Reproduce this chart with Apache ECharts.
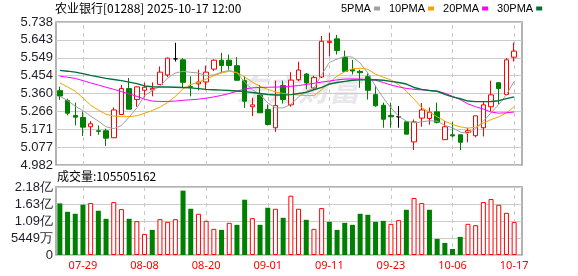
<!DOCTYPE html>
<html>
<head>
<meta charset="utf-8">
<script src="https://cdn.jsdelivr.net/npm/echarts@6/dist/echarts.min.js"></script>
<style>
html,body{margin:0;padding:0;background:#fff;}
#c{width:578px;height:276px;}
</style>
</head>
<body>
<div id="c"></div>
<script>
// ---------- data ----------
const dates = ['07-24','07-25','07-28','07-29','07-30','07-31','08-01','08-04','08-05','08-06',
  '08-07','08-08','08-11','08-12','08-13','08-14','08-15','08-18','08-19','08-20',
  '08-21','08-22','08-25','08-26','08-27','08-28','08-29','09-01','09-02','09-03',
  '09-04','09-05','09-08','09-09','09-10','09-11','09-12','09-15','09-16','09-17',
  '09-18','09-19','09-22','09-23','09-24','09-25','09-26','09-29','09-30','10-02',
  '10-03','10-06','10-08','10-09','10-10','10-13','10-14','10-15','10-16','10-17'];
const labelDates = ['07-29','08-08','08-20','09-01','09-11','09-23','10-06','10-17'];

const opens  = [5.375,5.323,5.244,5.233,5.184,5.163,5.163,5.126,5.249,5.386,
  5.328,5.377,5.379,5.408,5.458,5.543,5.538,5.396,5.411,5.421,
  5.489,5.536,5.536,5.507,5.428,5.290,5.352,5.275,5.179,5.402,
  5.300,5.433,5.463,5.389,5.447,5.629,5.649,5.550,5.486,5.477,
  5.449,5.354,5.298,5.244,5.237,5.210,5.104,5.230,5.228,5.263,
  5.116,5.142,5.142,5.154,5.137,5.179,5.290,5.417,5.355,5.552];
const closes = [5.347,5.256,5.235,5.182,5.200,5.160,5.124,5.273,5.386,5.277,
  5.395,5.393,5.387,5.473,5.547,5.543,5.419,5.393,5.421,5.473,
  5.536,5.508,5.508,5.430,5.319,5.300,5.258,5.196,5.296,5.328,
  5.431,5.484,5.416,5.444,5.636,5.636,5.587,5.477,5.479,5.470,
  5.377,5.295,5.224,5.237,5.237,5.145,5.210,5.273,5.261,5.207,
  5.184,5.136,5.102,5.163,5.242,5.300,5.353,5.386,5.538,5.584];
const lows   = [5.326,5.245,5.191,5.135,5.135,5.142,5.082,5.124,5.249,5.277,
  5.290,5.340,5.345,5.408,5.447,5.529,5.394,5.345,5.377,5.377,
  5.479,5.470,5.486,5.429,5.284,5.240,5.258,5.191,5.157,5.307,
  5.290,5.425,5.382,5.380,5.442,5.556,5.566,5.474,5.461,5.390,
  5.328,5.290,5.179,5.179,5.179,5.145,5.061,5.184,5.195,5.202,
  5.116,5.128,5.061,5.102,5.128,5.133,5.267,5.303,5.350,5.529];
const highs  = [5.396,5.333,5.312,5.265,5.214,5.191,5.174,5.286,5.405,5.442,
  5.398,5.417,5.419,5.503,5.550,5.628,5.547,5.451,5.486,5.507,
  5.540,5.575,5.566,5.552,5.451,5.337,5.405,5.302,5.428,5.428,
  5.473,5.528,5.468,5.454,5.664,5.682,5.670,5.587,5.538,5.486,
  5.466,5.402,5.312,5.312,5.294,5.214,5.223,5.310,5.286,5.312,
  5.214,5.210,5.142,5.177,5.242,5.319,5.428,5.419,5.547,5.629];

const ma5  = [5.345,5.323,5.293,5.270,5.240,5.214,5.184,5.174,5.191,5.235,
  5.284,5.349,5.375,5.398,5.442,5.468,5.477,5.472,5.468,5.454,
  5.459,5.473,5.482,5.470,5.420,5.380,5.354,5.310,5.284,5.284,
  5.302,5.342,5.372,5.389,5.460,5.524,5.542,5.556,5.552,5.521,
  5.468,5.398,5.337,5.284,5.240,5.214,5.205,5.210,5.216,5.214,
  5.191,5.179,5.156,5.149,5.174,5.214,5.258,5.302,5.354,5.424];
const ma10 = [5.416,5.395,5.372,5.337,5.298,5.272,5.250,5.241,5.237,5.238,
  5.242,5.256,5.270,5.288,5.312,5.345,5.385,5.408,5.420,5.436,
  5.454,5.468,5.478,5.470,5.448,5.420,5.398,5.382,5.368,5.360,
  5.355,5.352,5.349,5.349,5.380,5.418,5.452,5.475,5.490,5.494,
  5.488,5.462,5.446,5.432,5.407,5.372,5.330,5.285,5.262,5.237,
  5.214,5.196,5.184,5.177,5.182,5.203,5.222,5.237,5.257,5.290];
const ma20 = [5.452,5.446,5.440,5.428,5.416,5.405,5.393,5.382,5.370,5.358,
  5.345,5.330,5.320,5.318,5.318,5.320,5.324,5.327,5.330,5.335,
  5.342,5.350,5.360,5.372,5.384,5.390,5.392,5.393,5.394,5.395,
  5.398,5.402,5.408,5.414,5.420,5.426,5.432,5.436,5.437,5.436,
  5.434,5.430,5.418,5.405,5.395,5.387,5.382,5.379,5.376,5.372,
  5.362,5.345,5.328,5.305,5.290,5.278,5.262,5.256,5.258,5.262];
const ma30 = [5.482,5.478,5.473,5.465,5.456,5.448,5.440,5.434,5.428,5.420,
  5.412,5.400,5.396,5.394,5.394,5.393,5.392,5.390,5.386,5.382,
  5.380,5.378,5.376,5.373,5.370,5.365,5.360,5.355,5.352,5.352,
  5.354,5.360,5.366,5.380,5.392,5.410,5.418,5.424,5.430,5.432,
  5.432,5.433,5.430,5.424,5.418,5.410,5.392,5.382,5.376,5.372,
  5.355,5.342,5.332,5.320,5.317,5.317,5.318,5.322,5.333,5.342];

const volumes = [165400000,138500000,132100000,161100000,166500000,141800000,116000000,169700000,147100000,116000000,
  108500000,67700000,80500000,114900000,106300000,114900000,206200000,148200000,132100000,109500000,
  83800000,80500000,103100000,96700000,177200000,118100000,96700000,151400000,148200000,119200000,
  190100000,148200000,112800000,83800000,150300000,106300000,80500000,103100000,96700000,132100000,
  128900000,106300000,109500000,99900000,111700000,145000000,182600000,166500000,145000000,51500000,
  38700000,19300000,58000000,99900000,95600000,169700000,179300000,161100000,135300000,105505162];
// 1 = up (red, hollow), 0 = down (green, filled)
const volUp = [0,0,0,0,1,0,0,1,1,0, 1,1,0,1,1,1,0,0,1,1, 1,0,1,0,0,1,0,0,1,0,
  1,1,0,1,1,0,0,0,0,0, 0,0,0,1,1,0,1,1,0,0, 0,0,0,1,1,1,1,1,1,1];

const priceTickLabels = ['4.982','5.077','5.171','5.266','5.360','5.454','5.549','5.643','5.738'];
const volTickLabels = ['0','5449万','1.09亿','1.63亿','2.18亿'];
const maNames = ['5PMA','10PMA','20PMA','30PMA'];
const titleText = '农业银行[01288] 2025-10-17 12:00';
const volText = '成交量:105505162';

// ---------- chart ----------
const PMIN = 4.982, PMAX = 5.738, PINT = 0.0945;
const VMIN = 0, VMAX = 217960000, VINT = 54490000;
const RED = '#ff0000', GREEN = '#008000';
const maColors = ['#a0a0a0', '#f5a300', '#ff00ff', '#00703a'];

const candleData = dates.map((d, i) => [opens[i], closes[i], lows[i], highs[i]]);
const volData = volumes.map((v, i) => ({
  value: v,
  itemStyle: volUp[i] ? {color: '#ffffff', borderColor: RED, borderWidth: 1}
                      : {color: GREEN, borderColor: GREEN, borderWidth: 0}
}));
const dashLines = () => ({
  silent: true, symbol: ['none', 'none'], label: {show: false}, z: 1,
  lineStyle: {color: '#c8c8c8', type: [4, 4], width: 1},
  emphasis: {disabled: true},
  data: labelDates.map(d => ({xAxis: d}))
});

const LBL = {fontFamily: 'Liberation Sans', fontSize: 13, color: '#1e1e2a'};
const chart = echarts.init(document.getElementById('c'), null, {renderer: 'canvas'});
chart.setOption({
  animation: false,
  backgroundColor: '#fff',
  title: [
    {text: titleText, left: 55, top: 2, padding: 0,
     textStyle: {fontFamily: 'Noto Sans CJK SC', fontSize: 12, fontWeight: 'normal', color: '#000'}},
    {text: volText, left: 57, top: 170, padding: 0,
     textStyle: {fontFamily: 'Noto Sans CJK SC', fontSize: 12, fontWeight: 'normal', color: '#000'}}
  ],
  legend: {
    data: maNames, left: 341, top: 3, padding: 0,
    align: 'right', icon: 'rect', itemWidth: 6, itemHeight: 4, itemGap: 9,
    textStyle: {fontFamily: 'Liberation Sans', fontSize: 11, color: '#000', padding: [0, -2, 0, 0]},
    selectedMode: false
  },
  graphic: [{
    type: 'text', left: 236, top: 74, z: 0, silent: true,
    style: {text: '东方财富', fill: '#e8e8ec', font: 'italic bold 31px "Noto Sans CJK SC"'}
  }],
  grid: [
    {left: 56, top: 22, right: 56, height: 143, show: true, borderColor: '#999', borderWidth: 1.5, backgroundColor: 'transparent'},
    {left: 56, top: 22, width: 462, height: 143},
    {left: 56, top: 187, right: 56, height: 68, show: true, borderColor: '#999', borderWidth: 1.5, backgroundColor: 'transparent'},
    {left: 56, top: 187, width: 462, height: 68}
  ],
  xAxis: [
    {gridIndex: 0, type: 'category', data: [], show: false},
    {gridIndex: 1, type: 'category', data: dates, boundaryGap: true,
     axisLine: {show: false}, axisTick: {show: false}, axisLabel: {show: false}, splitLine: {show: false}},
    {gridIndex: 2, type: 'category', data: [], show: false},
    {gridIndex: 3, type: 'category', data: dates, boundaryGap: true,
     axisLine: {show: false}, axisTick: {show: false}, splitLine: {show: false},
     axisLabel: {show: true, color: RED, fontFamily: 'Noto Sans', fontSize: 11, margin: 5,
       interval: (idx, val) => labelDates.indexOf(val) >= 0}}
  ],
  yAxis: [
    {gridIndex: 0, type: 'value', min: PMIN, max: PMAX, interval: PINT,
     axisLine: {show: false}, axisTick: {show: false},
     splitLine: {show: true, lineStyle: {color: '#cccccc', width: 1}},
     axisLabel: Object.assign({margin: 3, formatter: v => priceTickLabels[Math.round((v - PMIN) / PINT)]}, LBL)},
    {gridIndex: 1, type: 'value', min: PMIN, max: PMAX, show: false, splitLine: {show: false}},
    {gridIndex: 2, type: 'value', min: VMIN, max: VMAX, interval: VINT,
     axisLine: {show: false}, axisTick: {show: false},
     splitLine: {show: true, lineStyle: {color: '#cccccc', width: 1}},
     axisLabel: Object.assign({margin: 3, formatter: v => volTickLabels[Math.round((v - VMIN) / VINT)]}, LBL)},
    {gridIndex: 3, type: 'value', min: VMIN, max: VMAX, show: false, splitLine: {show: false}}
  ],
  series: [
    {type: 'line', name: 'gridK', xAxisIndex: 1, yAxisIndex: 1, data: [], z: 1, markLine: dashLines()},
    {type: 'line', name: 'gridV', xAxisIndex: 3, yAxisIndex: 3, data: [], z: 1, markLine: dashLines()},
    {type: 'candlestick', name: 'K', xAxisIndex: 1, yAxisIndex: 1, data: candleData, barWidth: 5,
     z: 3,
     itemStyle: {color: '#ffffff', color0: GREEN, borderColor: RED, borderColor0: GREEN,
                 borderColorDoji: '#000000', borderWidth: 1}},
    ...[ma5, ma10, ma20, ma30].map((arr, k) => ({
      type: 'line', name: maNames[k], xAxisIndex: 1, yAxisIndex: 1, data: arr,
      showSymbol: false, symbol: 'none', smooth: false, z: 4,
      itemStyle: {color: maColors[k]},
      lineStyle: {color: maColors[k], width: k === 3 ? 1.4 : 1}
    })),
    {type: 'bar', name: 'VOL', xAxisIndex: 3, yAxisIndex: 3, data: volData, barWidth: 5, z: 3}
  ]
});
</script>
</body>
</html>
